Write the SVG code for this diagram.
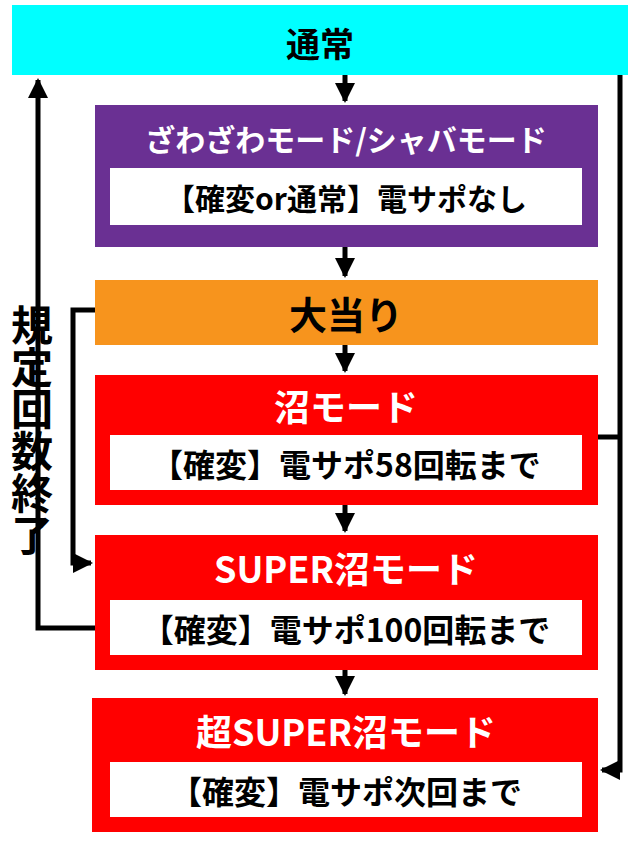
<svg xmlns="http://www.w3.org/2000/svg" width="640" height="842" viewBox="0 0 640 842">
<defs>
<marker id="ah" viewBox="0 0 10 10" refX="9" refY="5" markerWidth="4" markerHeight="4" orient="auto" markerUnits="strokeWidth"><path d="M0,0L10,5L0,10z" fill="#000"/></marker>
<style>
.t{font-family:"Noto Sans CJK JP","Noto Sans",sans-serif;font-weight:bold;text-anchor:middle;dominant-baseline:central}
.w{fill:#fff}.k{fill:#000}
.ln{stroke:#000;stroke-width:5;fill:none}
</style>
</defs>
<rect width="640" height="842" fill="#fff"/>
<g id="n1"><rect x="12" y="5" width="616" height="70" fill="#00ffff"/><text class="t k" x="320" y="42" font-size="34">通常</text></g>
<g id="n2"><rect x="95" y="105" width="503" height="142" fill="#6a3093"/><text class="t w" x="346" y="138" font-size="30">ざわざわモード/シャバモード</text><rect x="110" y="168" width="472" height="57" fill="#fff"/><text class="t k" x="346" y="197" font-size="30">【確変or通常】電サポなし</text></g>
<g id="n3"><rect x="95" y="280" width="503" height="65" fill="#f7941d"/><text class="t k" x="346" y="312" font-size="38">大当り</text></g>
<g id="n4"><rect x="95" y="375" width="503" height="130" fill="#ff0000"/><text class="t w" x="346" y="405" font-size="36">沼モード</text><rect x="110" y="435" width="472" height="55" fill="#fff"/><text class="t k" x="346" y="463" font-size="32">【確変】電サポ58回転まで</text></g>
<g id="n5"><rect x="95" y="535" width="503" height="135" fill="#ff0000"/><text class="t w" x="346" y="567" font-size="36">SUPER沼モード</text><rect x="110" y="600" width="472" height="55" fill="#fff"/><text class="t k" x="346" y="628" font-size="32">【確変】電サポ100回転まで</text></g>
<g id="n6"><rect x="92" y="698" width="506" height="134" fill="#ff0000"/><text class="t w" x="346" y="730" font-size="36">超SUPER沼モード</text><rect x="110" y="762" width="472" height="55" fill="#fff"/><text class="t k" x="346" y="790" font-size="32">【確変】電サポ次回まで</text></g>
<g id="lbl"><text class="t k" font-size="42" x="32" y="430" writing-mode="tb" style="writing-mode:vertical-rl;text-orientation:upright" dominant-baseline="central">規定回数終了</text></g>
<g id="edges">
<path class="ln" d="M345,75V101" marker-end="url(#ah)"/>
<path class="ln" d="M345,247V276" marker-end="url(#ah)"/>
<path class="ln" d="M345,345V371" marker-end="url(#ah)"/>
<path class="ln" d="M345,505V531" marker-end="url(#ah)"/>
<path class="ln" d="M345,670V694" marker-end="url(#ah)"/>
<path class="ln" d="M620,75V770H602" marker-end="url(#ah)"/>
<path class="ln" d="M598,437H620"/>
<path class="ln" d="M95,310H73V563H91" marker-end="url(#ah)"/>
<path class="ln" d="M95,628H38V80" marker-end="url(#ah)"/>
</g>
</svg>
